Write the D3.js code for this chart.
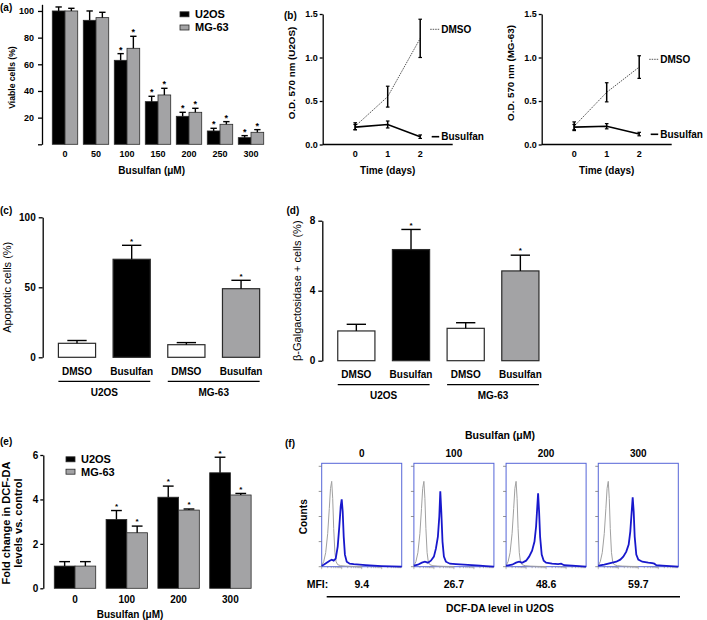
<!DOCTYPE html>
<html><head><meta charset="utf-8">
<script src="https://cdn.jsdelivr.net/npm/d3@7"></script>
<style>body{margin:0;background:#fff} svg{display:block}</style>
</head><body><svg id="c" width="707" height="620"></svg>
<script>
// ================= DATA =================
// (a) cell viability
const doses = ["0","50","100","150","200","250","300"];
const cellLines = ["U2OS","MG-63"];
const viableU2OS = [100,93,63,32,21,10,5];
const viableU2OSErr = [3,7,5,4,3,2,1.5];
const viableMG63 = [100,95,72,37,24,15,9];
const viableMG63Err = [2,4,9,5,3,2,2];
const viableSig = [false,false,true,true,true,true,true];
const viableTicks = [0,20,40,60,80,100];

// (b) growth curves (O.D. 570 nm)
const days = [0,1,2];
const odU2OSDmso = [0.21,0.55,1.22];
const odU2OSDmsoErr = [0.04,0.12,0.22];
const odU2OSBus = [0.20,0.23,0.09];
const odU2OSBusErr = [0.03,0.04,0.02];
const odMG63Dmso = [0.21,0.60,0.89];
const odMG63DmsoErr = [0.05,0.11,0.13];
const odMG63Bus = [0.20,0.21,0.12];
const odMG63BusErr = [0.03,0.03,0.02];
const odTicks = [0,0.5,1.0,1.5];

// (c) apoptosis, (d) senescence
const treatGroups = ["U2OS","U2OS","MG-63","MG-63"];
const treatments = ["DMSO","Busulfan","DMSO","Busulfan"];
const apoptotic = [10,70,9,49];
const apoptoticErr = [2,10,1.5,6];
const senescent = [1.7,6.35,1.85,5.13];
const senescentErr = [0.38,1.15,0.32,0.9];
const treatSig = [false,true,false,true];
const apoTicks = [0,50,100];
const senTicks = [0,4,8];

// (e) ROS fold change
const rosDoses = ["0","100","200","300"];
const rosU2OS = [1.0,3.1,4.1,5.2];
const rosU2OSErr = [0.2,0.4,0.5,0.7];
const rosMG63 = [1.0,2.5,3.52,4.2];
const rosMG63Err = [0.2,0.3,0.05,0.07];
const rosSig = [false,true,true,true];
const rosTicks = [0,2,4,6];

// (f) flow cytometry histograms (x: log10 fluorescence, y: relative counts)
const mfiLabels = ["9.4","26.7","48.6","59.7"];
const histControl = [[0.02,2],[0.1,5],[0.2,14],[0.3,33],[0.38,58],[0.44,78],[0.5,85],[0.55,68],[0.6,38],[0.66,14],[0.72,5],[0.8,2],[0.95,1],[1.2,0.6],[1.6,0.3],[2.0,0.2]];
const histBlue = [
  [[0,1],[0.1,2],[0.25,4],[0.4,6],[0.5,7],[0.6,6],[0.7,8],[0.8,20],[0.88,40],[0.95,60],[1.0,67],[1.05,55],[1.1,30],[1.16,12],[1.25,5],[1.4,3],[1.6,2.5],[1.9,2],[2.2,1.5],[2.6,1],[3.0,0.6],[3.5,0.3],[4.0,0]],
  [[0,1],[0.2,2],[0.4,4],[0.55,5],[0.7,4],[0.85,6],[1.0,10],[1.1,18],[1.2,30],[1.27,50],[1.32,75],[1.37,55],[1.43,25],[1.5,10],[1.6,5],[1.8,3],[2.1,2.5],[2.5,2],[2.9,1.5],[3.3,1],[3.6,0.5],[4.0,0]],
  [[0,1],[0.3,2],[0.5,4],[0.65,5],[0.8,4],[1.0,6],[1.15,10],[1.3,16],[1.42,25],[1.5,40],[1.56,60],[1.6,73],[1.65,55],[1.7,30],[1.78,12],[1.88,6],[2.0,4],[2.3,3],[2.6,2.5],[2.75,3],[2.9,1.5],[3.3,1],[4.0,0]],
  [[0,1],[0.3,2],[0.5,3],[0.7,4],[0.9,5],[1.1,7],[1.25,10],[1.4,15],[1.52,22],[1.6,35],[1.66,52],[1.72,69],[1.77,55],[1.82,30],[1.9,12],[2.0,7],[2.2,5],[2.5,4],[2.7,3.5],[2.8,3],[2.9,1.5],[3.2,1],[4.0,0]]
];
const countTicks = [0,25,50,75,100];

// ================= DRAWING =================
const FONT = '"Liberation Sans", Arial, Helvetica, sans-serif';
const GRAY = "#a3a3a5";
const svg = d3.select('#c');

function txt(g, x, y, s, o = {}) {
  const t = g.append('text')
    .attr('font-family', FONT)
    .attr('font-size', o.size || 10)
    .attr('font-weight', o.weight || 'bold')
    .attr('text-anchor', o.anchor || 'middle')
    .attr('dy', '0.35em')
    .attr('fill', o.fill || '#000')
    .text(s);
  if (o.rotate) t.attr('transform', `translate(${x},${y}) rotate(-90)`);
  else t.attr('x', x).attr('y', y);
  return t;
}
function yAxis(g, x, scale, ticks, fs, fmt, tsize = 4, tpad = 3) {
  const ax = g.append('g').attr('transform', `translate(${x},0)`)
    .call(d3.axisLeft(scale).tickValues(ticks).tickSize(tsize).tickSizeOuter(0).tickPadding(tpad).tickFormat(fmt));
  ax.select('.domain').attr('stroke', '#000').attr('stroke-width', 1.3);
  ax.selectAll('.tick line').attr('stroke', '#000').attr('stroke-width', 1.3);
  ax.selectAll('.tick text').attr('font-family', FONT).attr('font-size', fs).attr('font-weight', 'bold').attr('fill', '#000');
  return ax;
}
function bars(g, data, y, capFrac, starSize, sw, starGap) {
  data.forEach(d => {
    const cx = d.x + d.w / 2;
    g.append('rect').attr('x', d.x).attr('y', y(d.v)).attr('width', d.w)
      .attr('height', y(0) - y(d.v)).attr('fill', d.fill).attr('stroke', '#2a2a2a').attr('stroke-width', sw);
    const top = y(d.v + d.e);
    g.append('line').attr('x1', cx).attr('x2', cx).attr('y1', y(d.v)).attr('y2', top).attr('stroke', '#000').attr('stroke-width', 1.4);
    g.append('line').attr('x1', cx - d.w * capFrac).attr('x2', cx + d.w * capFrac).attr('y1', top).attr('y2', top).attr('stroke', '#000').attr('stroke-width', 1.4);
    if (d.sig) g.append('text').attr('x', cx).attr('y', top - starGap + starSize * 0.6).attr('text-anchor', 'middle')
      .attr('font-family', FONT).attr('font-size', starSize).attr('font-weight', 'bold').text('*');
  });
}
function legend(g, x, y, items, fs) {
  items.forEach((it, i) => {
    g.append('rect').attr('x', x).attr('y', y[i] - 2.5).attr('width', 9).attr('height', 5)
      .attr('fill', it.fill).attr('stroke', '#2a2a2a').attr('stroke-width', 0.8);
    txt(g, x + 15, y[i], it.label, { size: fs, anchor: 'start' });
  });
}

// ---------- (a) ----------
{
  const g = svg.append('g');
  const y = d3.scaleLinear().domain([0, 105]).range([144.3, 4.3]);
  const x = d3.scaleBand().domain(doses).range([49.5, 266.5]).paddingInner(0.18).paddingOuter(0.09);
  const xs = d3.scaleBand().domain(cellLines).range([0, x.bandwidth()]);
  const vals = { "U2OS": [viableU2OS, viableU2OSErr, "#000"], "MG-63": [viableMG63, viableMG63Err, GRAY] };
  const data = [];
  doses.forEach((d, i) => cellLines.forEach(c => data.push({
    x: x(d) + xs(c), w: xs.bandwidth(), v: vals[c][0][i], e: vals[c][1][i], fill: vals[c][2], sig: viableSig[i]
  })));
  bars(g, data, y, 0.25, 9, 0.8, 6.5);
  yAxis(g, 42, y, viableTicks, 9, d => d === 0 ? "" : d, 4, 4);
  doses.forEach(d => txt(g, x(d) + x.bandwidth() / 2, 154, d, { size: 9 }));
  txt(g, 151.7, 170, "Busulfan (\u03bcM)", { size: 10 });
  txt(g, 12, 77.5, "Viable cells (%)", { size: 8.6, rotate: true });
  txt(g, 0, 7, "(a)", { size: 10, anchor: 'start' });
  legend(g, 180, [14.3, 27.5], [{ label: "U2OS", fill: "#000" }, { label: "MG-63", fill: GRAY }], 11);
}

// ---------- (b) ----------
function growth(ax0, dm, dmE, bu, buE, ylab, ylabX, dmLabelY, buLabelY, tag) {
  const g = svg.append('g');
  const y = d3.scaleLinear().domain([0, 1.5]).range([144.5, 14]);
  const x = d3.scaleLinear().domain([-1, 3]).range([ax0, ax0 + 130]);
  g.append('line').attr('x1', x(-1)).attr('x2', x(3)).attr('y1', y(0)).attr('y2', y(0)).attr('stroke', '#000').attr('stroke-width', 1.3);
  yAxis(g, ax0, y, odTicks, 9, d3.format('.1f'), 3, 2);
  days.forEach(d => txt(g, x(d), 154, d, { size: 9 }));
  txt(g, x(1), 170, "Time (days)", { size: 10 });
  txt(g, ylabX, 73, ylab, { size: 9.8, rotate: true });
  const line = d3.line().x((d, i) => x(days[i])).y(d => y(d));
  g.append('path').attr('d', line(dm)).attr('fill', 'none').attr('stroke', '#444').attr('stroke-width', 0.9).attr('stroke-dasharray', '1.5,1');
  g.append('path').attr('d', line(bu)).attr('fill', 'none').attr('stroke', '#000').attr('stroke-width', 1.6);
  [[dm, dmE], [bu, buE]].forEach(([v, e]) => v.forEach((val, i) => {
    const cx = x(days[i]);
    g.append('line').attr('x1', cx).attr('x2', cx).attr('y1', y(val - e[i])).attr('y2', y(val + e[i])).attr('stroke', '#000').attr('stroke-width', 1.5);
    [val - e[i], val + e[i]].forEach(t => g.append('line').attr('x1', cx - 1.8).attr('x2', cx + 1.8).attr('y1', y(t)).attr('y2', y(t)).attr('stroke', '#000').attr('stroke-width', 1.2));
  }));
  const lx = x(2) + 10;
  g.append('line').attr('x1', lx).attr('x2', lx + 9).attr('y1', dmLabelY).attr('y2', dmLabelY).attr('stroke', '#444').attr('stroke-width', 0.9).attr('stroke-dasharray', '1.5,1');
  txt(g, lx + 11, dmLabelY, "DMSO", { size: 10, anchor: 'start' });
  g.append('line').attr('x1', lx + 1.5).attr('x2', lx + 9).attr('y1', buLabelY).attr('y2', buLabelY).attr('stroke', '#000').attr('stroke-width', 1.6);
  txt(g, lx + 11, buLabelY, "Busulfan", { size: 10, anchor: 'start' });
  if (tag) txt(g, 284, 15, tag, { size: 10, anchor: 'start' });
}
growth(322.7, odU2OSDmso, odU2OSDmsoErr, odU2OSBus, odU2OSBusErr, "O.D. 570 nm (U2OS)", 291.7, 29.3, 136.7, "(b)");
growth(541.7, odMG63Dmso, odMG63DmsoErr, odMG63Bus, odMG63BusErr, "O.D. 570 nm (MG-63)", 511, 59.3, 134.3, null);

// ---------- (c) & (d) ----------
function treatPanel(ax0, xr, yr, dom, ticks, vals, errs, ylab, ylabX, tag, tagX) {
  const g = svg.append('g');
  const y = d3.scaleLinear().domain(dom).range(yr);
  const x = d3.scaleBand().domain(d3.range(4)).range(xr).paddingInner(0.32).paddingOuter(0.16);
  const fills = ["#fff", "#000", "#fff", GRAY];
  const data = vals.map((v, i) => ({ x: x(i), w: x.bandwidth(), v, e: errs[i], fill: fills[i], sig: treatSig[i] }));
  bars(g, data, y, 0.26, 8, 1.2, 6.5);
  yAxis(g, ax0, y, ticks, 10, d => d, 4, 3);
  treatments.forEach((t, i) => txt(g, x(i) + x.bandwidth() / 2, yr[0] + 14, t, { size: 10 }));
  [0, 2].forEach(i => {
    const x1 = x(i), x2 = x(i + 1) + x.bandwidth();
    g.append('line').attr('x1', x1).attr('x2', x2).attr('y1', yr[0] + 24).attr('y2', yr[0] + 24).attr('stroke', '#000').attr('stroke-width', 1.3);
    txt(g, (x1 + x2) / 2, yr[0] + 35, treatGroups[i], { size: 10 });
  });
  txt(g, ylabX, (yr[0] + yr[1]) / 2, ylab, { size: 11, weight: 'normal', rotate: true });
  txt(g, tagX, 210, tag, { size: 10, anchor: 'start' });
}
treatPanel(42.7, [49.65, 268.4], [357.3, 217.3], [0, 100], apoTicks, apoptotic, apoptoticErr, "Apoptotic cells (%)", 7.5, "(c)", 0);
treatPanel(322.3, [329, 547.7], [360.7, 220.7], [0, 8], senTicks, senescent, senescentErr, "\u03b2-Galgactosidase + cells (%)", 297.5, "(d)", 286.5);

// ---------- (e) ----------
{
  const g = svg.append('g');
  const y = d3.scaleLinear().domain([0, 6]).range([588.3, 455]);
  const x = d3.scaleBand().domain(rosDoses).range([49.1, 256.3]).paddingInner(0.2).paddingOuter(0.1);
  const xs = d3.scaleBand().domain(cellLines).range([0, x.bandwidth()]);
  const vals = { "U2OS": [rosU2OS, rosU2OSErr, "#000"], "MG-63": [rosMG63, rosMG63Err, GRAY] };
  const data = [];
  rosDoses.forEach((d, i) => cellLines.forEach(c => data.push({
    x: x(d) + xs(c), w: xs.bandwidth(), v: vals[c][0][i], e: vals[c][1][i], fill: vals[c][2], sig: rosSig[i]
  })));
  bars(g, data, y, 0.26, 8, 0.8, 6.5);
  yAxis(g, 43.3, y, rosTicks, 10, d => d, 3, 2);
  rosDoses.forEach(d => txt(g, x(d) + x.bandwidth() / 2, 599, d, { size: 10 }));
  txt(g, 130, 614.3, "Busulfan (\u03bcM)", { size: 10 });
  txt(g, 6.5, 523, "Fold change in DCF-DA", { size: 11, rotate: true });
  txt(g, 18.5, 523, "levels vs. control", { size: 11, rotate: true });
  txt(g, 0, 441.7, "(e)", { size: 10, anchor: 'start' });
  legend(g, 66, [459.3, 471.7], [{ label: "U2OS", fill: "#000" }, { label: "MG-63", fill: GRAY }], 11);
}

// ---------- (f) ----------
{
  const g = svg.append('g');
  const boxes = d3.scaleBand().domain(d3.range(4)).range([321.7, 678.3]).paddingInner(0.132);
  const top = 463.3, bottom = 566.7;
  const y = d3.scaleLinear().domain([0, 103]).range([bottom, top]);
  const BLUE_BOX = "#5565d8";
  for (let i = 0; i < 4; i++) {
    const bx = boxes(i), bw = boxes.bandwidth();
    const x = d3.scaleLinear().domain([0, 4]).range([bx, bx + bw]);
    g.append('rect').attr('x', bx).attr('y', top).attr('width', bw).attr('height', bottom - top)
      .attr('fill', 'none').attr('stroke', BLUE_BOX).attr('stroke-width', 1);
    countTicks.forEach(t => g.append('line').attr('x1', bx - 3).attr('x2', bx).attr('y1', y(t)).attr('y2', y(t)).attr('stroke', '#777').attr('stroke-width', 0.8));
    for (let dd = 0; dd < 4; dd++) for (let k = 1; k <= 9; k++) {
      const xv = x(dd + Math.log10(k));
      g.append('line').attr('x1', xv).attr('x2', xv).attr('y1', bottom).attr('y2', bottom + (k === 1 ? 2.5 : 1.5)).attr('stroke', '#888').attr('stroke-width', 0.6);
    }
    const line = d3.line().x(d => x(d[0])).y(d => y(d[1]));
    g.append('path').attr('d', line(histControl)).attr('fill', 'none').attr('stroke', '#a0a0a0').attr('stroke-width', 1);
    g.append('path').attr('d', line(histBlue[i])).attr('fill', 'none').attr('stroke', '#1818cc').attr('stroke-width', 1.8);
    txt(g, bx + bw / 2, 453.3, rosDoses[i], { size: 10 });
    txt(g, bx + bw / 2, 584.3, mfiLabels[i], { size: 10.5 });
  }
  txt(g, 500, 435, "Busulfan (\u03bcM)", { size: 10.5 });
  txt(g, 303.3, 516.7, "Counts", { size: 10.2, rotate: true });
  txt(g, 306.7, 584.3, "MFI:", { size: 10.5, anchor: 'start' });
  g.append('line').attr('x1', 326.7).attr('x2', 680).attr('y1', 596.7).attr('y2', 596.7).attr('stroke', '#000').attr('stroke-width', 1.5);
  txt(g, 500, 608.3, "DCF-DA level in U2OS", { size: 10.3 });
  txt(g, 285, 443.3, "(f)", { size: 10, anchor: 'start' });
}
</script></body></html>
